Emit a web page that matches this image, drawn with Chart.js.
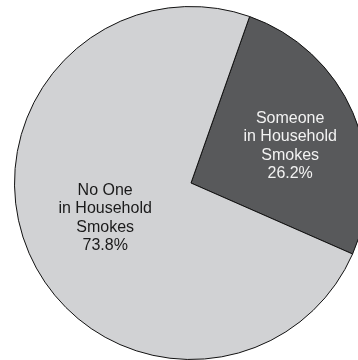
<!DOCTYPE html>
<html>
<head>
<meta charset="utf-8">
<script src="https://cdn.jsdelivr.net/npm/chart.js@4"></script>
<style>
  html, body { margin: 0; padding: 0; background: #fff; overflow: hidden; width: 358px; height: 360px; }
  #wrap { position: absolute; left: 0; top: 0; width: 384px; height: 366px; }
</style>
</head>
<body>
<div id="wrap"><canvas id="pie" width="384" height="366"></canvas></div>
<script>
// Datos del gráfico
const categorias = [['Someone', 'in Household', 'Smokes'], ['No One', 'in Household', 'Smokes']];
const porcentajes = [26.2, 73.8];
const colores = ['#58595b', '#d1d2d4'];
const coloresTexto = ['#f2f2f2', '#1a1a1a'];
const posEtiqueta = [0.6, 0.53]; // fracción del radio
const ajusteEtiqueta = [[2, 5], [0, -2]]; // pequeño ajuste en px

// Plugin para las etiquetas dentro de las porciones
const etiquetas = {
  id: 'etiquetas',
  afterDatasetsDraw(chart) {
    const ctx = chart.ctx;
    const meta = chart.getDatasetMeta(0);
    ctx.save();
    ctx.font = '16px "Liberation Sans", Arial, sans-serif';
    ctx.textAlign = 'center';
    ctx.textBaseline = 'middle';
    meta.data.forEach((arc, i) => {
      const p = arc.getProps(['x', 'y', 'startAngle', 'endAngle', 'outerRadius']);
      const mid = (p.startAngle + p.endAngle) / 2;
      const r = p.outerRadius * posEtiqueta[i];
      const cx = p.x + Math.cos(mid) * r + ajusteEtiqueta[i][0];
      const cy = p.y + Math.sin(mid) * r + ajusteEtiqueta[i][1];
      const lineas = [...categorias[i], porcentajes[i].toFixed(1) + '%'];
      const alto = 18.5;
      ctx.fillStyle = coloresTexto[i];
      lineas.forEach((t, j) => {
        ctx.fillText(t, cx, cy + (j - (lineas.length - 1) / 2) * alto);
      });
    });
    ctx.restore();
  }
};

new Chart(document.getElementById('pie'), {
  type: 'pie',
  data: {
    labels: categorias.map(c => c.join(' ')),
    datasets: [{
      data: porcentajes,
      backgroundColor: colores,
      borderColor: '#111',
      borderWidth: 1
    }]
  },
  options: {
    responsive: false,
    animation: false,
    rotation: 19.4,
    layout: { padding: { top: 6, bottom: 6, left: 14, right: 16 } },
    plugins: {
      legend: { display: false },
      tooltip: { enabled: false }
    }
  },
  plugins: [etiquetas]
});
</script>
</body>
</html>
